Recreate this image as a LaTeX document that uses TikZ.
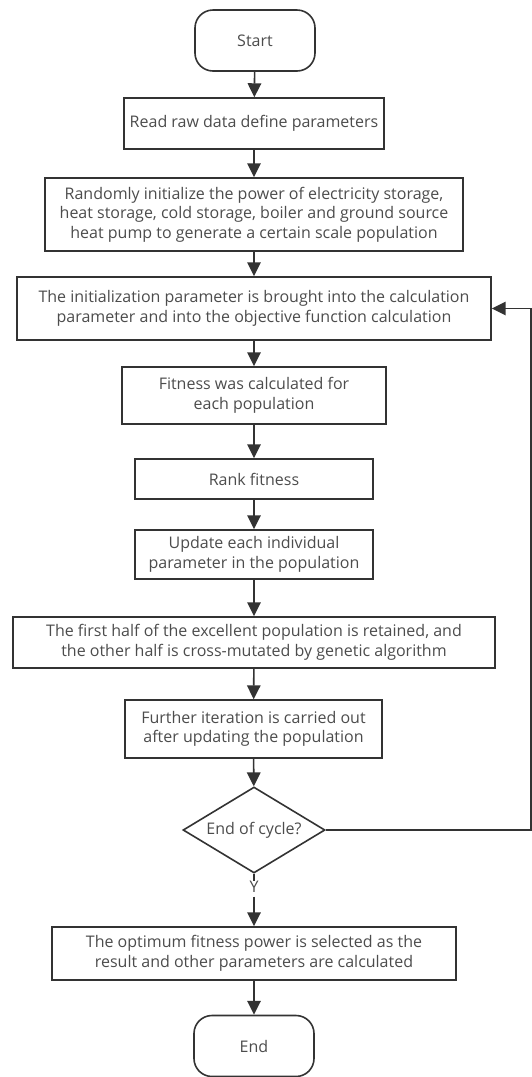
\documentclass[tikz,border=0pt]{standalone}
\usepackage{fontspec}
\setmainfont{Open Sans}
\usetikzlibrary{arrows.meta,shapes.geometric}
\definecolor{ln}{gray}{0.2}
\definecolor{tx}{gray}{0.3}
\begin{document}
\begin{tikzpicture}[x=1pt,y=1pt,
  line width=1.6pt, color=ln,
  every node/.style={font=\fontsize{16}{19.5}\selectfont, text=tx, inner sep=0pt, align=center},
  term/.style={draw=ln, rounded corners=18pt, minimum width=120pt, minimum height=61pt},
  proc/.style={draw=ln, rectangle},
  dec/.style={draw=ln, diamond, aspect=1.65, minimum width=142pt, minimum height=86pt, inner sep=0pt},
  arr/.style={color=ln, -{Triangle[scale length=1.9, scale width=1.6]}}]
\useasboundingbox (0,0) rectangle (532,-1077);
\node[term] (start) at (255,-40.5) {Start};
\node[proc, minimum width=260pt, minimum height=51pt] (read) at (254,-123.5) {Read raw data define parameters};
\node[proc, minimum width=418pt, minimum height=73pt] (rand) at (254,-214.5) {Randomly initialize the power of electricity storage,\\heat storage, cold storage, boiler and ground source\\heat pump to generate a certain scale population};
\node[proc, minimum width=474pt, minimum height=63pt] (init) at (254,-308.5) {The initialization parameter is brought into the calculation\\parameter and into the objective function calculation};
\node[proc, minimum width=264pt, minimum height=57pt] (fit) at (254,-395.5) {Fitness was calculated for\\each population};
\node[proc, minimum width=238pt, minimum height=40pt] (rank) at (254,-479) {Rank fitness};
\node[proc, minimum width=238pt, minimum height=49pt] (upd) at (254,-554.5) {Update each individual\\parameter in the population};
\node[proc, minimum width=482pt, minimum height=51pt] (half) at (254,-642.5) {The first half of the excellent population is retained, and\\the other half is cross-mutated by genetic algorithm};
\node[proc, minimum width=257pt, minimum height=58pt] (iter) at (253.5,-729) {Further iteration is carried out\\after updating the population};
\node[dec] (cyc) at (254,-830) {End of cycle?};
\node (y) at (254,-887) {Y};
\node[proc, minimum width=404pt, minimum height=53pt] (opt) at (254,-953.5) {The optimum fitness power is selected as the\\result and other parameters are calculated};
\node[term] (end) at (254,-1046) {End};
\coordinate (c1) at (531,-830);
\coordinate (c2) at (531,-308.5);
\draw[arr] (start) -- (read);
\draw[arr] (read) -- (rand);
\draw[arr] (rand) -- (init);
\draw[arr] (init) -- (fit);
\draw[arr] (fit) -- (rank);
\draw[arr] (rank) -- (upd);
\draw[arr] (upd) -- (half);
\draw[arr] (half) -- (iter);
\draw[arr] (iter) -- (cyc);
\draw (cyc.south) -- (y.north);
\draw[arr] ([yshift=-3pt]y.south) -- (opt.north);
\draw[arr] (opt) -- (end);
\draw[arr] (cyc.east) -- (c1) -- (c2) -- (init.east);
\end{tikzpicture}
\end{document}
